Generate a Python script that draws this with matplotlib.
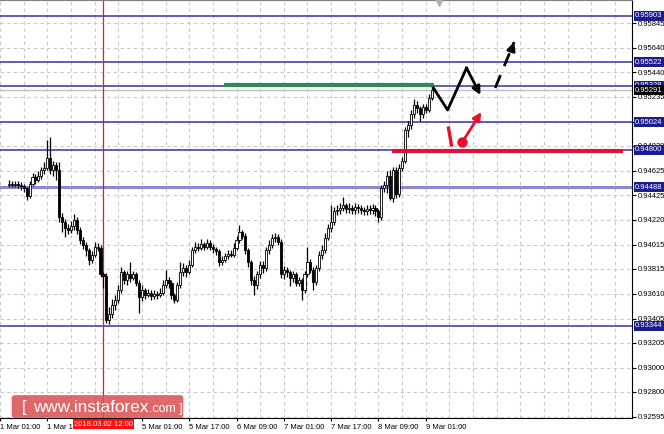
import matplotlib
matplotlib.use("Agg")
import matplotlib.pyplot as plt
import matplotlib.transforms as mtransforms
from matplotlib.patches import FancyBboxPatch
import pandas as pd

plt.rcParams["font.family"] = ["Liberation Sans", "DejaVu Sans"]

# H1 candles, 1 Mar 04:00 .. 9 Mar 03:00 (weekend 3-4 Mar skipped)
first_open = 0.9451
closes = [
    0.9452, 0.9451, 0.9452, 0.9451, 0.9450, 0.9448, 0.9442, 0.9452, 0.9457, 0.9455,
    0.9458, 0.9463, 0.9465, 0.9473, 0.9463, 0.9467, 0.9463, 0.9424, 0.9420, 0.9415,
    0.9414, 0.9417, 0.9422, 0.9414, 0.9405, 0.9401, 0.9397, 0.9389, 0.9393, 0.9400,
    0.9399, 0.9377, 0.9376, 0.9339, 0.9344, 0.9352, 0.9356, 0.9364, 0.9379, 0.9372,
    0.9377, 0.9374, 0.9377, 0.9370, 0.9358, 0.9364, 0.9360, 0.9362, 0.9359, 0.9361,
    0.9360, 0.9362, 0.9368, 0.9372, 0.9370, 0.9360, 0.9356, 0.9368, 0.9379, 0.9382,
    0.9379, 0.9385, 0.9397, 0.9400, 0.9399, 0.9402, 0.9400, 0.9403, 0.9400, 0.9398,
    0.9396, 0.9387, 0.9389, 0.9392, 0.9394, 0.9393, 0.9399, 0.9405, 0.9412, 0.9409,
    0.9397, 0.9387, 0.9372, 0.9368, 0.9377, 0.9385, 0.9382, 0.9397, 0.9401, 0.9407,
    0.9408, 0.9404, 0.9377, 0.9381, 0.9379, 0.9374, 0.9377, 0.9370, 0.9372, 0.9364,
    0.9377, 0.9387, 0.9381, 0.9371, 0.9382, 0.9393, 0.9397, 0.9407, 0.9415, 0.9420,
    0.9429, 0.9430, 0.9432, 0.9434, 0.9431, 0.9432, 0.9430, 0.9433, 0.9432, 0.9430,
    0.9429, 0.9431, 0.9430, 0.9432, 0.9429, 0.9424, 0.9448, 0.9451, 0.9458, 0.9440,
    0.9463, 0.9443, 0.9465, 0.9471, 0.9496, 0.9500, 0.9509, 0.9517, 0.9514, 0.9509,
    0.9515, 0.9513, 0.9523, 0.9529,
]
highs = [
    0.9455, 0.9454, 0.9454, 0.9454, 0.9453, 0.9452, 0.9449, 0.9454, 0.9461, 0.9460,
    0.9462, 0.9466, 0.9470, 0.9488, 0.9490, 0.9471, 0.9470, 0.9470, 0.9428, 0.9423,
    0.9419, 0.9421, 0.9427, 0.9424, 0.9416, 0.9408, 0.9404, 0.9399, 0.9396, 0.9404,
    0.9403, 0.9401, 0.9379, 0.9378, 0.9350, 0.9357, 0.9360, 0.9368, 0.9383, 0.9381,
    0.9380, 0.9387, 0.9380, 0.9379, 0.9372, 0.9368, 0.9366, 0.9365, 0.9364, 0.9364,
    0.9363, 0.9366, 0.9372, 0.9381, 0.9375, 0.9372, 0.9362, 0.9371, 0.9387, 0.9386,
    0.9385, 0.9389, 0.9400, 0.9404, 0.9403, 0.9406, 0.9404, 0.9406, 0.9405, 0.9402,
    0.9400, 0.9398, 0.9392, 0.9395, 0.9397, 0.9397, 0.9403, 0.9409, 0.9418, 0.9414,
    0.9411, 0.9399, 0.9389, 0.9376, 0.9380, 0.9388, 0.9388, 0.9400, 0.9405, 0.9410,
    0.9411, 0.9410, 0.9406, 0.9384, 0.9383, 0.9381, 0.9380, 0.9379, 0.9375, 0.9374,
    0.9380, 0.9400, 0.9390, 0.9383, 0.9385, 0.9396, 0.9401, 0.9411, 0.9419, 0.9434,
    0.9433, 0.9434, 0.9436, 0.9441, 0.9436, 0.9436, 0.9434, 0.9436, 0.9435, 0.9434,
    0.9433, 0.9434, 0.9434, 0.9435, 0.9434, 0.9431, 0.9451, 0.9454, 0.9462, 0.9463,
    0.9466, 0.9466, 0.9468, 0.9474, 0.9499, 0.9504, 0.9513, 0.9522, 0.9520, 0.9516,
    0.9518, 0.9518, 0.9526, 0.9533,
]
lows = [
    0.9449, 0.9449, 0.9449, 0.9448, 0.9447, 0.9445, 0.9438, 0.9440, 0.9450, 0.9452,
    0.9453, 0.9456, 0.9460, 0.9463, 0.9460, 0.9458, 0.9455, 0.9420, 0.9412, 0.9408,
    0.9410, 0.9411, 0.9414, 0.9410, 0.9402, 0.9398, 0.9392, 0.9385, 0.9386, 0.9391,
    0.9396, 0.9375, 0.9366, 0.9337, 0.9336, 0.9341, 0.9348, 0.9353, 0.9362, 0.9369,
    0.9368, 0.9371, 0.9372, 0.9367, 0.9345, 0.9355, 0.9357, 0.9358, 0.9356, 0.9357,
    0.9357, 0.9358, 0.9360, 0.9366, 0.9366, 0.9357, 0.9353, 0.9354, 0.9366, 0.9376,
    0.9375, 0.9377, 0.9383, 0.9395, 0.9396, 0.9397, 0.9397, 0.9398, 0.9397, 0.9395,
    0.9393, 0.9384, 0.9385, 0.9387, 0.9390, 0.9391, 0.9391, 0.9397, 0.9403, 0.9406,
    0.9394, 0.9383, 0.9368, 0.9360, 0.9365, 0.9374, 0.9378, 0.9380, 0.9394, 0.9399,
    0.9404, 0.9401, 0.9374, 0.9373, 0.9375, 0.9367, 0.9371, 0.9367, 0.9367, 0.9356,
    0.9362, 0.9375, 0.9378, 0.9364, 0.9368, 0.9380, 0.9390, 0.9395, 0.9405, 0.9412,
    0.9418, 0.9426, 0.9427, 0.9429, 0.9428, 0.9428, 0.9427, 0.9427, 0.9428, 0.9427,
    0.9426, 0.9426, 0.9427, 0.9427, 0.9425, 0.9420, 0.9422, 0.9445, 0.9444, 0.9438,
    0.9437, 0.9440, 0.9441, 0.9462, 0.9469, 0.9490, 0.9497, 0.9506, 0.9510, 0.9504,
    0.9506, 0.9510, 0.9511, 0.9521,
]
opens = [first_open] + closes[:-1]

times = list(pd.date_range("2018-03-01 04:00", "2018-03-02 23:00", freq="h")) + \
        list(pd.date_range("2018-03-05 00:00", "2018-03-09 03:00", freq="h"))

# price levels
blue_levels = [0.95903, 0.95522, 0.95328, 0.95024, 0.94800, 0.94488, 0.93344]
bid_price = 0.95291
price_ticks = [0.95845, 0.95640, 0.95440, 0.95235, 0.95030, 0.94830, 0.94625, 0.94425,
               0.94220, 0.94015, 0.93815, 0.93610, 0.93405, 0.93205, 0.93000, 0.92800, 0.92595]
time_labels = ["2018-03-01 01:00", "2018-03-01 17:00", "2018-03-05 01:00", "2018-03-05 17:00",
               "2018-03-06 09:00", "2018-03-07 01:00", "2018-03-07 17:00", "2018-03-08 09:00",
               "2018-03-09 01:00"]
crosshair_time = "2018-03-02 12:00"

# drawn analysis (bar index, price)
green_seg = ([72.6, 143.7], [0.95333, 0.95333])
red_seg = ([129.6, 207.7], [0.94785, 0.94785])
zigzag_x = [143.6, 148.4, 154.8, 159.5]
zigzag_y = [0.95309, 0.95127, 0.95474, 0.95251]
dash_arrow_x = [164.5, 170.9]
dash_arrow_y = [0.95309, 0.95688]
red_tick_x = [148.7, 149.7]
red_tick_y = [0.94978, 0.94838]
red_dot = (153.4, 0.94863)
red_arrow_end = (159.8, 0.95110)


def bar_pos(t):
    t = pd.Timestamp(t)
    if t < times[0]:
        return -(times[0] - t) / pd.Timedelta("1h")
    return times.index(t)


fig = plt.figure(figsize=(6.64, 4.34), dpi=100)
ax = fig.add_axes([0, 16 / 434, 632 / 664, 418 / 434])
ax.set_xlim(-1.106, 210.77)
ax.set_ylim(0.925844, 0.96035)

# grid
for gx in range(-3, 211, 8):
    ax.axvline(gx, color="#c8c8c8", lw=0.8, ls=(0, (3, 3)), zorder=0)
for gy in price_ticks:
    ax.axhline(gy, color="#c8c8c8", lw=0.8, ls=(0, (3, 3)), zorder=0)

# levels
for lv in blue_levels:
    if lv == 0.94488:
        ax.axhline(lv, color="#8a8ad0", lw=2.2, zorder=1)
    else:
        ax.axhline(lv, color="#3434a8", lw=1.1, zorder=1)
ax.axhline(bid_price, color="#c0c0c0", lw=1, zorder=1)

# crosshair
ax.axvline(bar_pos(crosshair_time), color="#e02020", lw=0.9, zorder=1)

# candles
idx = list(range(len(closes)))
ax.vlines(idx, lows, highs, color="black", lw=0.9, zorder=3)
for i in idx:
    o, c = opens[i], closes[i]
    lo, hi = min(o, c), max(o, c)
    h = max(hi - lo, 0.00004)
    face = "white" if c >= o else "black"
    ax.bar(i, h, bottom=lo, width=0.7, color=face, edgecolor="black", lw=0.6, zorder=4)

# green / red horizontal segments
ax.plot(*green_seg, color="#2e8b57", lw=3, zorder=5, solid_capstyle="butt")
ax.plot(*red_seg, color="#dc143c", lw=3, zorder=5, solid_capstyle="butt")

# forecast arrows
ax.plot(zigzag_x[:-1], zigzag_y[:-1], color="black", lw=2, zorder=6)
ax.annotate("", xy=(zigzag_x[-1], zigzag_y[-1]), xytext=(zigzag_x[-2], zigzag_y[-2]),
            arrowprops=dict(arrowstyle="-|>", color="black", lw=2, mutation_scale=12,
                            shrinkA=0, shrinkB=0), zorder=6)
ax.plot(dash_arrow_x, dash_arrow_y, color="black", lw=2, ls=(0, (5, 3.5)), zorder=6)
ax.annotate("", xy=(dash_arrow_x[1], dash_arrow_y[1]),
            xytext=(dash_arrow_x[1] - 0.8, dash_arrow_y[1] - 0.00058),
            arrowprops=dict(arrowstyle="-|>", color="black", lw=2, mutation_scale=12,
                            shrinkA=0, shrinkB=0), zorder=6)
ax.plot(red_tick_x, red_tick_y, color="#e8102e", lw=2.4, zorder=6)
ax.plot(*red_dot, "o", color="#e8102e", ms=6.5, zorder=6)
ax.annotate("", xy=red_arrow_end, xytext=red_dot,
            arrowprops=dict(arrowstyle="-|>", color="#e8102e", lw=2, mutation_scale=12,
                            shrinkA=0, shrinkB=0), zorder=6)

# small marker on top edge
ax.plot(145.4, 0.9601, marker="v", color="#b0b0b0", ms=5, clip_on=False, zorder=7)

# axes styling
ax.spines["left"].set_visible(False)
ax.spines["top"].set_color("#808080")
ax.spines["top"].set_linewidth(1.6)
ax.spines["right"].set_color("black")
ax.spines["bottom"].set_color("black")

ax.yaxis.tick_right()
ax.set_yticks(price_ticks)
ax.set_yticklabels([f"{p:.5f}" for p in price_ticks])
ax.tick_params(axis="y", labelsize=5.5, length=3, pad=1.5, colors="black")

xt = [bar_pos(t) for t in time_labels]
ax.set_xticks(xt)
ax.set_xticklabels([f"{pd.Timestamp(t).day} Mar {pd.Timestamp(t):%H:%M}" for t in time_labels],
                   ha="left")
ax.tick_params(axis="x", labelsize=5.5, length=2, pad=2, colors="black")

# boxed price labels on the right
ytrans = mtransforms.blended_transform_factory(ax.transAxes, ax.transData)
for lv in blue_levels:
    ax.text(1.005, lv, f"{lv:.5f}", transform=ytrans, ha="left", va="center", fontsize=5.5,
            color="white", zorder=10, clip_on=False,
            bbox=dict(boxstyle="square,pad=0.2", fc="#1c1c8c", ec="none"))
ax.text(1.005, bid_price, f"{bid_price:.5f}", transform=ytrans, ha="left", va="center",
        fontsize=5.5, color="white", zorder=10, clip_on=False,
        bbox=dict(boxstyle="square,pad=0.2", fc="black", ec="none"))

# crosshair time label
xtrans = mtransforms.blended_transform_factory(ax.transData, ax.transAxes)
ax.text(bar_pos(crosshair_time), -0.007, "2018.03.02 12:00", transform=xtrans, ha="center",
        va="top", fontsize=5.5, color="white", zorder=10, clip_on=False,
        bbox=dict(boxstyle="square,pad=0.2", fc="#ff1010", ec="none"))

# watermark
wm = FancyBboxPatch((13 / 664, 17 / 434), 169 / 664, 21 / 434,
                    boxstyle="round,pad=0.002,rounding_size=0.006",
                    transform=fig.transFigure, fc="#da4f4f", ec="none", alpha=0.85, zorder=20)
fig.patches.append(wm)
fig.text(22 / 664, 22 / 434, "[", ha="left", va="baseline", fontsize=12, color="white",
         zorder=21)
t_main = fig.text(33 / 664, 22 / 434, "www.instaforex", ha="left", va="baseline",
                  fontsize=12.3, color="white", zorder=21)
fig.canvas.draw()
bb = t_main.get_window_extent()
fig.text(bb.x1 / fig.bbox.width + 0.5 / 664, 22 / 434, ".com ]", ha="left", va="baseline",
         fontsize=9, color="white", zorder=21)

fig.savefig("out.png", dpi=100)
